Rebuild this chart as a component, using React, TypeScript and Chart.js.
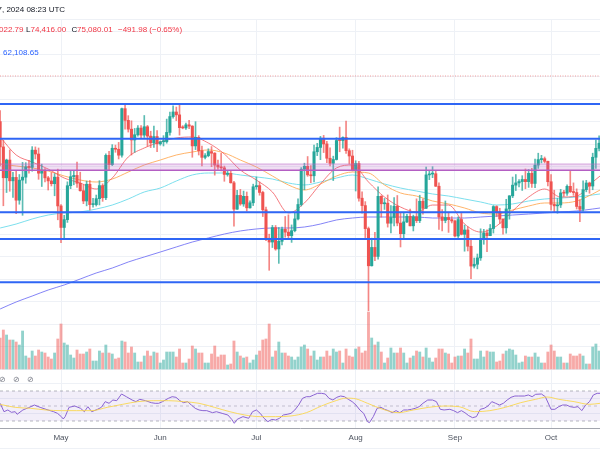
import React, { useEffect, useRef } from "react";
import { Chart, registerables } from "chart.js";

Chart.register(...registerables);

// ---------------- data (daily candles, Apr 12 -> Oct 16, day 0 = May 1) ----------------
const firstDay = -19;

const opens = [
  70000, 67200, 63770, 65740, 63430, 63810, 61280, 63510, 63840, 64990, 64930, 66840, 66410, 64280, 64480, 63760, 63420, 63110, 63840,
  60640, 58250, 59120, 62890, 63890, 64030, 63160, 62330, 61190, 63050, 60790, 60790, 61450, 62900, 61550, 66260, 65230, 67050, 66940, 66280, 71450, 70150, 69170, 67970, 68550, 69290, 68510, 69440, 68400, 67650, 68350,
  67540, 67770, 67770, 68810, 70570, 71080, 70760, 69340, 69310, 69650, 69510, 67310, 68260, 66770, 66040, 66230, 66680, 66500, 65180, 64970, 64870, 64140, 64260, 63210, 60280, 61810, 60860, 61710, 60430, 60990,
  62770, 62900, 62140, 60210, 57050, 56630, 58230, 55860, 56710, 58050, 57730, 57340, 57890, 59200, 60800, 64720, 65040, 64090, 63990, 66660, 67140, 68170, 67530, 65940, 65380, 65800, 67910, 67900, 68250, 66780, 66190,
  64630, 65350, 61500, 60680, 58120, 53990, 56030, 55030, 61710, 60880, 60950, 58720, 59350, 60610, 58740, 57560, 58870, 59490, 58430, 59440, 59010, 61160, 60380, 64090, 64180, 64220, 62830, 59420, 59030, 59360, 59120,
  58970, 57300, 59130, 57490, 57970, 56160, 53960, 54160, 54870, 57040, 57640, 57340, 58130, 60570, 60000, 59180, 58210, 60310, 61760, 62950, 63200, 63350, 63580, 63340, 64260, 63140, 65180, 65790, 65890, 65600,
  63330, 60810, 60650, 60750, 62090, 62060, 62820, 62220, 62130, 60580, 60270, 62450, 63190, 62850, 66050, 67040,
];

const highs = [
  71230, 67930, 65840, 66870, 64370, 64490, 64130, 65480, 65450, 65720, 67230, 67200, 67080, 65280, 64800, 63920, 64350, 64230, 64730,
  60780, 59600, 63320, 64500, 64530, 65500, 64390, 62990, 63400, 63470, 61490, 61850, 63450, 63100, 66440, 66700, 67450, 67400, 67700, 71520, 71980, 70670, 70100, 69250, 69560, 69560, 70690, 69590, 68940, 69500, 69020,
  67860, 68450, 70290, 71060, 71760, 71630, 72000, 69560, 69850, 70150, 69560, 70000, 68450, 67300, 66450, 66990, 67240, 66570, 65730, 66480, 65070, 64530, 64520, 63370, 62370, 62480, 62290, 62190, 61220, 63060,
  63860, 63300, 62280, 60500, 57500, 58480, 58470, 58240, 58300, 59470, 59650, 58530, 59850, 61420, 64900, 65390, 66130, 65130, 67390, 67600, 68370, 68480, 67820, 67100, 66170, 68230, 69400, 68320, 70080, 66990, 66830,
  65660, 65600, 62200, 61120, 58300, 57060, 57720, 62750, 61790, 61470, 61860, 60680, 61570, 61800, 59850, 59820, 59700, 60280, 59620, 61430, 61830, 61420, 64950, 64520, 65000, 64480, 63210, 60230, 61190, 59940, 59450,
  59060, 59420, 59810, 58520, 58330, 56990, 54850, 55300, 58100, 58040, 57990, 58580, 60670, 60660, 60380, 59210, 61380, 61790, 63850, 64130, 63560, 64000, 64750, 64690, 64820, 65840, 66500, 66260, 66080, 65620,
  64130, 62390, 61470, 62480, 62370, 62980, 64480, 63200, 62540, 61320, 63420, 63480, 63290, 66500, 67950, 68420,
];

const lows = [
  65090, 60660, 62130, 62270, 61600, 59770, 60830, 59600, 63160, 64280, 64500, 65860, 63600, 62800, 63300, 62410, 62860, 61770, 59100,
  56550, 56940, 58810, 62560, 62990, 62700, 62280, 60890, 60650, 60190, 60490, 60630, 60750, 61150, 61330, 64600, 65120, 66600, 65860, 66060, 69160, 68850, 66300, 66600, 68390, 68200, 68250, 67280, 67120, 67130, 66670,
  67390, 67300, 67610, 68510, 70380, 70120, 68510, 69210, 69130, 69230, 66050, 66900, 66300, 65080, 65860, 66100, 65000, 64060, 64690, 64530, 63380, 63950, 63180, 58400, 60240, 60710, 60600, 60070, 60380, 60680,
  62490, 61830, 59460, 56770, 53490, 56020, 55720, 54260, 56300, 57160, 57050, 56590, 57760, 59080, 60630, 62440, 63930, 63230, 63300, 66230, 65780, 66570, 65450, 65100, 63460, 65740, 66660, 67070, 66480, 65300, 64530,
  62300, 61180, 59850, 57120, 49000, 53960, 54560, 54730, 59400, 60250, 58290, 57640, 58410, 58430, 56080, 57100, 58790, 58420, 57860, 58790, 58790, 59720, 60350, 63560, 63780, 62800, 58030, 57860, 58770, 57700, 58750,
  57200, 57130, 57420, 55610, 55640, 52550, 53740, 53650, 54590, 56380, 55550, 57330, 57630, 59460, 58700, 57500, 57610, 59170, 61560, 62350, 62760, 62360, 62550, 62700, 62690, 62670, 64810, 65420, 65420, 62860,
  60160, 60000, 59830, 60460, 61690, 61800, 62130, 61820, 60300, 58900, 60050, 62210, 62050, 62440, 64800, 66750,
];

const closes = [
  67200, 63770, 65740, 63430, 63810, 61280, 63510, 63840, 64990, 64930, 66840, 66410, 64280, 64480, 63760, 63420, 63110, 63840, 60640,
  58250, 59120, 62890, 63890, 64030, 63160, 62330, 61190, 63050, 60790, 60790, 61450, 62900, 61550, 66260, 65230, 67050, 66940, 66280, 71450, 70150, 69170, 67970, 68550, 69290, 68510, 69440, 68400, 67650, 68350, 67540,
  67770, 67770, 68810, 70570, 71080, 70760, 69340, 69310, 69650, 69510, 67310, 68260, 66770, 66040, 66230, 66680, 66500, 65180, 64970, 64870, 64140, 64260, 63210, 60280, 61810, 60860, 61710, 60430, 60990, 62770,
  62900, 62140, 60210, 57050, 56630, 58230, 55860, 56710, 58050, 57730, 57340, 57890, 59200, 60800, 64720, 65040, 64090, 63990, 66660, 67140, 68170, 67530, 65940, 65380, 65800, 67910, 67900, 68250, 66780, 66190, 64630,
  65350, 61500, 60680, 58120, 53990, 56030, 55030, 61710, 60880, 60950, 58720, 59350, 60610, 58740, 57560, 58870, 59490, 58430, 59440, 59010, 61160, 60380, 64090, 64180, 64220, 62830, 59420, 59030, 59360, 59120, 58970,
  57300, 59130, 57490, 57970, 56160, 53960, 54160, 54870, 57040, 57640, 57340, 58130, 60570, 60000, 59180, 58210, 60310, 61760, 62950, 63200, 63350, 63580, 63340, 64260, 63140, 65180, 65790, 65890, 65600, 63330,
  60810, 60650, 60750, 62090, 62060, 62820, 62220, 62130, 60580, 60270, 62450, 63190, 62850, 66050, 67040, 67610,
];

// volume, thousand BTC
const volumes = [
  31, 39, 34, 29, 29, 27, 24, 38, 13, 11, 18, 13, 19, 17, 16, 12, 10, 16, 30,
  45, 26, 24, 14, 11, 19, 15, 15, 17, 20, 8, 8, 18, 16, 24, 16, 15, 10, 11, 28, 27, 16, 22, 16, 7, 7, 13, 18, 13, 17, 16,
  6, 9, 17, 17, 17, 12, 20, 6, 6, 10, 23, 20, 16, 16, 6, 6, 15, 23, 12, 14, 14, 4, 5, 28, 17, 13, 11, 12, 6, 9,
  14, 18, 29, 30, 45, 12, 18, 27, 16, 16, 13, 12, 9, 12, 22, 24, 20, 13, 18, 9, 12, 12, 18, 13, 20, 17, 18, 6, 20, 13, 12,
  20, 22, 16, 18, 57, 31, 24, 27, 17, 6, 11, 21, 16, 16, 21, 16, 6, 11, 13, 18, 17, 12, 21, 11, 7, 11, 20, 20, 16, 15, 6,
  12, 13, 13, 20, 16, 30, 10, 10, 18, 12, 18, 17, 17, 7, 8, 15, 18, 20, 19, 14, 6, 7, 13, 12, 12, 16, 12, 6, 6, 17,
  24, 18, 12, 12, 6, 6, 15, 13, 13, 15, 13, 5, 5, 22, 25, 18,
];

// moving averages, read at these day indices
const maDays = [-19, -14, -9, -4, 1, 6, 11, 16, 21, 26, 31, 36, 41, 46, 51, 56, 61, 66, 71, 76, 81, 86, 91, 96, 101, 106, 111, 116, 121, 126, 131, 136, 141, 146, 151, 156, 161, 166, 168.3];
const ema20 = [68300, 66300, 65520, 64740, 63740, 63190, 62520, 63740, 66080, 67080, 67740, 68190, 68300, 67630, 66410, 64630, 63520, 62190, 59860, 60970, 63080, 64860, 65190, 63300, 61630, 60520, 59970, 60740, 60740, 58630, 57740, 58410, 60080, 61630, 62520, 61630, 61740, 63300, 63970];
const ema50 = [65300, 65080, 64860, 64520, 63970, 63520, 63300, 63630, 64410, 65190, 65740, 66300, 66630, 66860, 66520, 65740, 64970, 63970, 62970, 62410, 63080, 63970, 64410, 64300, 62970, 62080, 61740, 61190, 60860, 60410, 59860, 59740, 60190, 60630, 60970, 60970, 61190, 61970, 62410];
const ema100 = [58190, 58630, 59190, 59630, 59860, 59970, 60300, 60740, 61410, 62190, 62630, 63410, 64080, 64300, 64300, 64080, 63860, 63630, 63190, 62970, 63300, 63740, 64080, 63630, 63080, 62630, 62300, 61970, 61740, 61410, 61080, 60740, 60860, 61190, 61410, 61520, 61630, 61860, 61970];
const ema200 = [49190, 49970, 50630, 51300, 51860, 52520, 53190, 53740, 54410, 54970, 55520, 56080, 56630, 57080, 57520, 57860, 58080, 58190, 58190, 58300, 58630, 59080, 59300, 59410, 59410, 59410, 59410, 59300, 59300, 59300, 59410, 59520, 59630, 59740, 59860, 59970, 60080, 60300, 60410];

// RSI and its moving average
const rsiDays = [-19, -17.8, -16.6, -15.5, -14.3, -13.7, -11.9, -10.1, -8.3, -6.5, -4.7, -2.3, -1.1, 0.1, 0.7, 1.3, 2.5, 4.3, 6.1, 7.3, 8.4, 9.6, 11.4, 12.6, 13.8, 15, 16.2, 17.4, 18.9, 20.4, 22.2, 23.4, 24.6, 26.4, 28.2, 29.4, 30.5, 31.7, 33.5, 34.7, 35.9, 37.1, 38.3, 39.5, 40.7, 41.9, 43.1, 44.3, 45.5, 47.3, 48.5, 50.3, 52.1, 53.3, 54.1, 55, 56.8, 58.6, 59.8, 61, 62.2, 63.4, 64.6, 65.8, 67, 68.2, 69.4, 70.6, 71.8, 73, 74.2, 75.4, 76.6, 77.7, 78.9, 80.1, 81.3, 82.5, 83.7, 84.9, 86.1, 87.3, 88.5, 89.7, 90.9, 92.1, 93.3, 94.5, 95.7, 96.3, 97.5, 98.7, 99.9, 101, 102.2, 103.4, 104.6, 105.8, 107, 108.2, 109.4, 110.6, 111.8, 113, 114.5, 116, 117.2, 118.4, 119.6, 121.4, 122.6, 123.8, 125, 126.1, 127.3, 128.5, 129.7, 130.9, 132.1, 133.3, 134.5, 135.7, 136.9, 138.1, 139.3, 140.5, 141.7, 142.9, 144.7, 145.9, 147.1, 148.2, 150, 151.2, 153, 154.2, 155.4, 156.6, 157.8, 159, 160.2, 161.4, 162.6, 163.8, 165, 166.2, 167.4, 168.3];
const rsiValues = [53.6, 42.4, 44.7, 41.6, 42.4, 38.9, 44.7, 47.8, 51.3, 48.2, 45.6, 42.4, 40.2, 35.8, 32.7, 35.8, 48.2, 50, 46.9, 42.4, 49.1, 42.4, 45.6, 48.2, 55.8, 53.6, 58, 57.1, 66, 62.4, 58, 55.8, 58.9, 57.1, 54.4, 53.6, 53.6, 55.8, 60.2, 62.4, 61.6, 57.1, 54.4, 55.8, 51.3, 46.9, 44.7, 43.8, 43.8, 41.1, 42.4, 40.2, 38, 32.2, 26.9, 32.2, 35.8, 33.6, 42.4, 44.7, 40.2, 33.6, 29.1, 32.2, 31.3, 33.6, 38, 38.9, 40.2, 44.7, 51.3, 60.2, 62.4, 62.4, 64.7, 66.9, 66.9, 66, 60.2, 58, 61.6, 63.3, 62.4, 58.9, 55.8, 51.3, 44.7, 40.2, 29.1, 27.8, 35.8, 46.9, 48.2, 45.6, 43.8, 41.1, 43.8, 41.1, 44.7, 44.7, 45.6, 46.9, 49.1, 53.6, 58, 58, 55.8, 45.6, 44.7, 45.6, 43.8, 41.1, 43.8, 41.1, 37.1, 34.4, 35.8, 45.6, 46.9, 50, 55.8, 53.6, 51.3, 53.6, 58, 61.6, 63.3, 63.3, 63.3, 64.7, 62.4, 65.6, 66, 62.4, 45.6, 45.6, 49.1, 51.3, 51.3, 49.1, 48.2, 49.1, 43.8, 51.3, 55.8, 64.7, 66.9, 66.9];
const rsiMaDays = [-19, -14.3, -9.5, -4.7, 0.1, 4.9, 9.6, 14.4, 19.2, 24, 28.8, 33.5, 38.3, 43.1, 47.9, 52.7, 57.4, 62.2, 67, 71.8, 76.6, 81.3, 86.1, 89, 92.1, 95.7, 100.5, 105.2, 110, 114.8, 119.6, 124.3, 129.1, 133.9, 138.7, 143.5, 148.2, 151.8, 155.4, 160.2, 165, 168.3];
const rsiMaValues = [52.2, 48.2, 46.9, 44.7, 43.8, 43.8, 43.8, 48.2, 52.2, 55.8, 57.1, 57.1, 55.8, 53.6, 48.2, 42.4, 38, 35.8, 35.8, 36.7, 41.1, 50, 57.5, 60.5, 59.5, 53.6, 45.6, 41.1, 44.7, 48.2, 50, 49.1, 42.4, 43.8, 48.2, 54.4, 58.9, 62, 58.9, 55.8, 52.2, 53.6];
const rsiLevels = [70, 50, 30];

// horizontal drawings
const levelPrices = [71970, 68110, 59930, 56970, 52160];
const zoneLow = 64600;
const zoneHigh = 65300;
const lastClose = 75080.01;

// axes
const monthTicks = [0, 31, 61, 92, 123, 153];
const monthLabels = ["May", "Jun", "Jul", "Aug", "Sep", "Oct"];
const priceGridTicks = [42500, 45000, 47500, 50000, 52500, 55000, 57500, 60000, 62500, 65000, 67500, 70000, 72500, 75000, 77500, 80000];
const rsiGridTicks = [40, 60, 80];

// ---------------- view ----------------
const X_MIN = -19.045;
const X_MAX = 168.28;
const PRICE_MIN = 35967;
const PRICE_MAX = 81411;
const VOL_MIN = -59;
const VOL_MAX = 350;
const RSI_MIN = 20.667;
const RSI_MAX = 566;

const UP = "#26a69a";
const DOWN = "#ef5350";
const GRID = "#eef1f6";
const FONT = "'Liberation Sans', Arial, sans-serif";

export default function App() {
  const ref = useRef<HTMLCanvasElement>(null);

  useEffect(() => {
    if (!ref.current) return;
    const days = opens.map((_, i) => firstDay + i);
    const isUp = (i: number) => closes[i] >= opens[i];
    const hline = (v: number) => [
      { x: X_MIN, y: v },
      { x: X_MAX, y: v },
    ];
    const series = (xs: number[], ys: number[]) => xs.map((x, i) => ({ x, y: ys[i] }));

    const maLine = (label: string, ys: number[], color: string) => ({
      type: "line" as const,
      label,
      data: series(maDays, ys),
      yAxisID: "y",
      borderColor: color,
      borderWidth: 1,
      pointRadius: 0,
      cubicInterpolationMode: "monotone" as const,
      order: 5,
    });

    const datasets: any[] = [
      // zone
      {
        type: "line",
        label: "zoneTop",
        data: hline(zoneHigh),
        yAxisID: "y",
        borderColor: "rgba(186,104,200,0.55)",
        borderWidth: 1,
        pointRadius: 0,
        fill: { value: zoneLow },
        backgroundColor: "rgba(186,104,200,0.22)",
        order: 1,
      },
      {
        type: "line",
        label: "zoneBottom",
        data: hline(zoneLow),
        yAxisID: "y",
        borderColor: "#b45fc3",
        borderWidth: 1.6,
        pointRadius: 0,
        order: 1,
      },
      // last price
      {
        type: "line",
        label: "last",
        data: hline(lastClose),
        yAxisID: "y",
        borderColor: "rgba(239,83,80,0.55)",
        borderWidth: 1,
        borderDash: [1, 1.5],
        pointRadius: 0,
        order: 1,
      },
      // levels
      ...levelPrices.map((p, k) => ({
        type: "line",
        label: "level" + k,
        data: hline(p),
        yAxisID: "y",
        borderColor: "#2f66f5",
        borderWidth: 2,
        pointRadius: 0,
        order: 0,
      })),
      // candle bodies
      {
        type: "bar",
        label: "body",
        data: days.map((d, i) => ({ x: d, y: [opens[i], closes[i]] })),
        yAxisID: "y",
        backgroundColor: days.map((_, i) => (isUp(i) ? UP : DOWN)),
        barThickness: 2.4,
        grouped: false,
        minBarLength: 1,
        borderWidth: 0,
        order: 3,
      },
      // wicks
      {
        type: "bar",
        label: "wick",
        data: days.map((d, i) => ({ x: d, y: [lows[i], highs[i]] })),
        yAxisID: "y",
        backgroundColor: days.map((_, i) => (isUp(i) ? "rgba(38,166,154,0.75)" : "rgba(239,83,80,0.7)")),
        barThickness: 1,
        grouped: false,
        borderWidth: 0,
        order: 4,
      },
      maLine("EMA20", ema20, "rgba(242,90,96,0.8)"),
      maLine("EMA50", ema50, "rgba(255,167,80,0.85)"),
      maLine("EMA100", ema100, "rgba(110,220,235,0.9)"),
      maLine("EMA200", ema200, "rgba(110,110,245,0.85)"),
      // volume
      {
        type: "bar",
        label: "volume",
        data: days.map((d, i) => ({ x: d, y: volumes[i] })),
        yAxisID: "yv",
        backgroundColor: days.map((_, i) => (isUp(i) ? "rgba(38,166,154,0.5)" : "rgba(239,83,80,0.5)")),
        barThickness: 2.2,
        grouped: false,
        borderWidth: 0,
        order: 8,
      },
      // RSI band + levels
      {
        type: "line",
        label: "rsiBand",
        data: hline(rsiLevels[0]),
        yAxisID: "yr",
        borderColor: "rgba(120,123,134,0.55)",
        borderDash: [3, 3],
        borderWidth: 1,
        pointRadius: 0,
        fill: { value: rsiLevels[2] },
        backgroundColor: "rgba(126,87,194,0.1)",
        order: 7,
      },
      {
        type: "line",
        label: "rsiMid",
        data: hline(rsiLevels[1]),
        yAxisID: "yr",
        borderColor: "rgba(120,123,134,0.4)",
        borderDash: [3, 3],
        borderWidth: 1,
        pointRadius: 0,
        order: 7,
      },
      {
        type: "line",
        label: "rsiLow",
        data: hline(rsiLevels[2]),
        yAxisID: "yr",
        borderColor: "rgba(120,123,134,0.55)",
        borderDash: [3, 3],
        borderWidth: 1,
        pointRadius: 0,
        order: 7,
      },
      {
        type: "line",
        label: "rsiMA",
        data: series(rsiMaDays, rsiMaValues),
        yAxisID: "yr",
        borderColor: "rgba(250,214,70,0.85)",
        borderWidth: 1,
        pointRadius: 0,
        cubicInterpolationMode: "monotone",
        order: 6,
      },
      {
        type: "line",
        label: "RSI",
        data: series(rsiDays, rsiValues),
        yAxisID: "yr",
        borderColor: "#8a63d2",
        borderWidth: 1,
        pointRadius: 0,
        tension: 0,
        order: 6,
      },
    ];

    const chart = new Chart(ref.current, {
      type: "bar",
      data: { datasets },
      options: {
        animation: false,
        responsive: false,
        maintainAspectRatio: false,
        events: [],
        layout: { padding: { top: 19, left: 0, right: 0, bottom: 0 } },
        plugins: {
          legend: { display: false },
          tooltip: { enabled: false },
          title: { display: false },
        },
        scales: {
          x: {
            type: "linear",
            position: "bottom",
            min: X_MIN,
            max: X_MAX,
            offset: false,
            afterBuildTicks: (s: any) => {
              s.ticks = monthTicks.map((v) => ({ value: v }));
            },
            afterFit: (s: any) => {
              s.height = 45;
              s.paddingLeft = 0;
              s.paddingRight = 0;
            },
            ticks: {
              autoSkip: false,
              maxRotation: 0,
              padding: 5,
              color: "#4c525e",
              font: { family: FONT, size: 8 },
              callback: (_v: any, i: number) => monthLabels[i],
            },
            grid: { color: GRID, drawTicks: false, offset: false, lineWidth: 1 },
            border: { display: true, color: "#a3a6ae", width: 1 },
          },
          y: {
            type: "linear",
            position: "left",
            min: PRICE_MIN,
            max: PRICE_MAX,
            afterBuildTicks: (s: any) => {
              s.ticks = [...priceGridTicks, PRICE_MAX].map((v) => ({ value: v }));
            },
            afterFit: (s: any) => {
              s.width = 0;
            },
            ticks: { display: false },
            grid: { color: GRID, drawTicks: false },
            border: { display: false },
          },
          yv: {
            type: "linear",
            display: false,
            min: VOL_MIN,
            max: VOL_MAX,
          },
          yr: {
            type: "linear",
            position: "left",
            min: RSI_MIN,
            max: RSI_MAX,
            afterBuildTicks: (s: any) => {
              s.ticks = rsiGridTicks.map((v) => ({ value: v }));
            },
            afterFit: (s: any) => {
              s.width = 0;
            },
            ticks: { display: false },
            grid: { color: GRID, drawTicks: false },
            border: { display: false },
          },
        },
      } as any,
    });
    return () => chart.destroy();
  }, []);

  const txt: React.CSSProperties = {
    position: "absolute",
    fontFamily: FONT,
    fontSize: 8,
    lineHeight: "8px",
    whiteSpace: "nowrap",
  };
  const red = "#f23645";
  const dark = "#131722";

  return (
    <div
      style={{
        position: "fixed",
        left: 0,
        top: 0,
        width: 600,
        height: 473,
        overflow: "hidden",
        background: "#ffffff",
      }}
    >
      <canvas ref={ref} width={600} height={473} style={{ position: "absolute", left: 0, top: 0, width: 600, height: 473 }} />
      <div style={{ position: "absolute", left: 0, top: 448, width: 600, height: 1, background: GRID }} />
      <span style={{ ...txt, left: -2.5, top: 6, color: dark }}>7, 2024 08:23 UTC</span>
      <span style={{ ...txt, left: -1, top: 26, color: red }}>022.79</span>
      <span style={{ ...txt, left: 26, top: 26, color: dark }}>L</span>
      <span style={{ ...txt, left: 30.5, top: 26, color: red }}>74,416.00</span>
      <span style={{ ...txt, left: 71.5, top: 26, color: dark }}>C</span>
      <span style={{ ...txt, left: 77, top: 26, color: red }}>75,080.01</span>
      <span style={{ ...txt, left: 118, top: 26, color: red }}>−491.98 (−0.65%)</span>
      <span style={{ ...txt, left: 3, top: 49, color: "#2962ff" }}>62,108.65</span>
      <span style={{ ...txt, left: -1, top: 376, color: "#787b86" }}>⊘</span>
      <span style={{ ...txt, left: 12.5, top: 376, color: "#787b86" }}>⊘</span>
      <span style={{ ...txt, left: 26.5, top: 376, color: "#787b86" }}>⊘</span>
    </div>
  );
}
